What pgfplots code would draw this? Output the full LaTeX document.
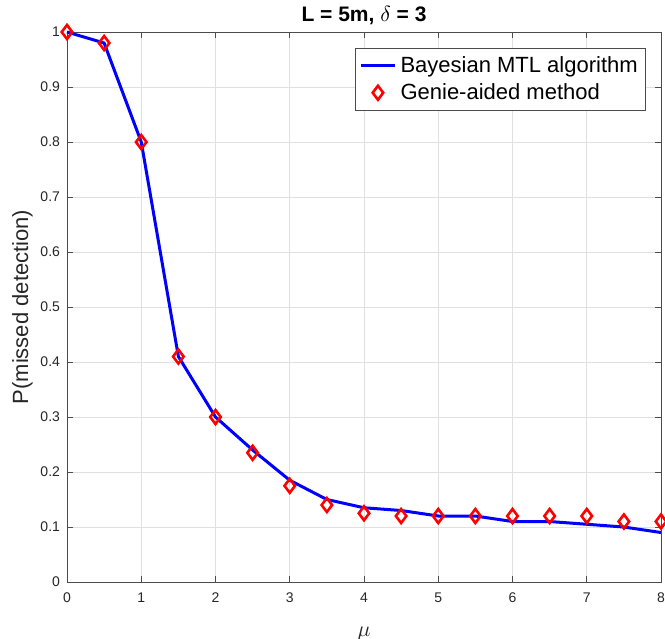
\documentclass[border=0pt]{standalone}
\usepackage{pgfplots}
\pgfplotsset{compat=1.18}
\usepackage{fontspec}
\setmainfont{Liberation Sans}
\pgfplotsset{
  longline/.style={legend image code/.code={\draw[##1] (0pt,0pt) -- (0.6cm,0pt);}},
  centermark/.style={legend image code/.code={\draw[##1] plot coordinates {(0.3cm,0cm)};}},
}
\begin{document}
\begin{tikzpicture}
\begin{axis}[
  scale only axis,
  width=297pt, height=275pt,
  xmin=0, xmax=8, ymin=0, ymax=1,
  xtick={0,1,...,8},
  ytick={0,0.1,0.2,0.3,0.4,0.5,0.6,0.7,0.8,0.9,1},
  yticklabels={0,0.1,0.2,0.3,0.4,0.5,0.6,0.7,0.8,0.9,1},
  /pgf/number format/assume math mode=true,
  tick label style={font=\fontsize{7}{8}\selectfont, text=black!85},
  xticklabel style={yshift=-2pt},
  tick align=inside,
  major tick length=3pt,
  tick style={color=black!70, line width=0.4pt},
  axis line style={color=black!70, line width=0.4pt},
  grid=major,
  major grid style={color=black!12, line width=0.4pt},
  xlabel={$\mu$},
  ylabel={P(missed detection)},
  label style={font=\fontsize{11}{13}\selectfont, text=black!85},
  xlabel style={yshift=-5pt},
  ylabel style={yshift=-3pt},
  title={\textbf{L = 5m, $\delta$ = 3}},
  title style={font=\fontsize{10.5}{12}\selectfont, yshift=-6pt},
  clip=false,
  legend style={at={(0.975,0.971)}, anchor=north east, font=\fontsize{11}{13}\selectfont,
    draw=black!70, line width=0.4pt, inner xsep=2pt, inner ysep=2pt, row sep=0pt},
  legend cell align=left,
]
\addplot[blue, line width=1.5pt, longline] coordinates {
(0,1) (0.5,0.98) (1,0.8) (1.5,0.41) (2,0.3) (2.5,0.24) (3,0.185) (3.5,0.15) (4,0.135) (4.5,0.13) (5,0.12) (5.5,0.12) (6,0.11) (6.5,0.11) (7,0.105) (7.5,0.1) (8,0.09)
};
\addlegendentry{Bayesian MTL algorithm}
\addplot[red, only marks, mark=diamond, mark size=3.5pt, line width=1.3pt, centermark] coordinates {
(0,1) (0.5,0.98) (1,0.8) (1.5,0.41) (2,0.3) (2.5,0.235) (3,0.175) (3.5,0.14) (4,0.125) (4.5,0.12) (5,0.12) (5.5,0.12) (6,0.12) (6.5,0.12) (7,0.12) (7.5,0.11) (8,0.11)
};
\addlegendentry{Genie-aided method}
\coordinate (bl) at (rel axis cs:0,0);
\coordinate (tr) at (rel axis cs:1,1);
\end{axis}
\pgfresetboundingbox
\path ([xshift=-33.5pt,yshift=-28pt]bl) rectangle ([xshift=2pt,yshift=16pt]tr);
\end{tikzpicture}
\end{document}
